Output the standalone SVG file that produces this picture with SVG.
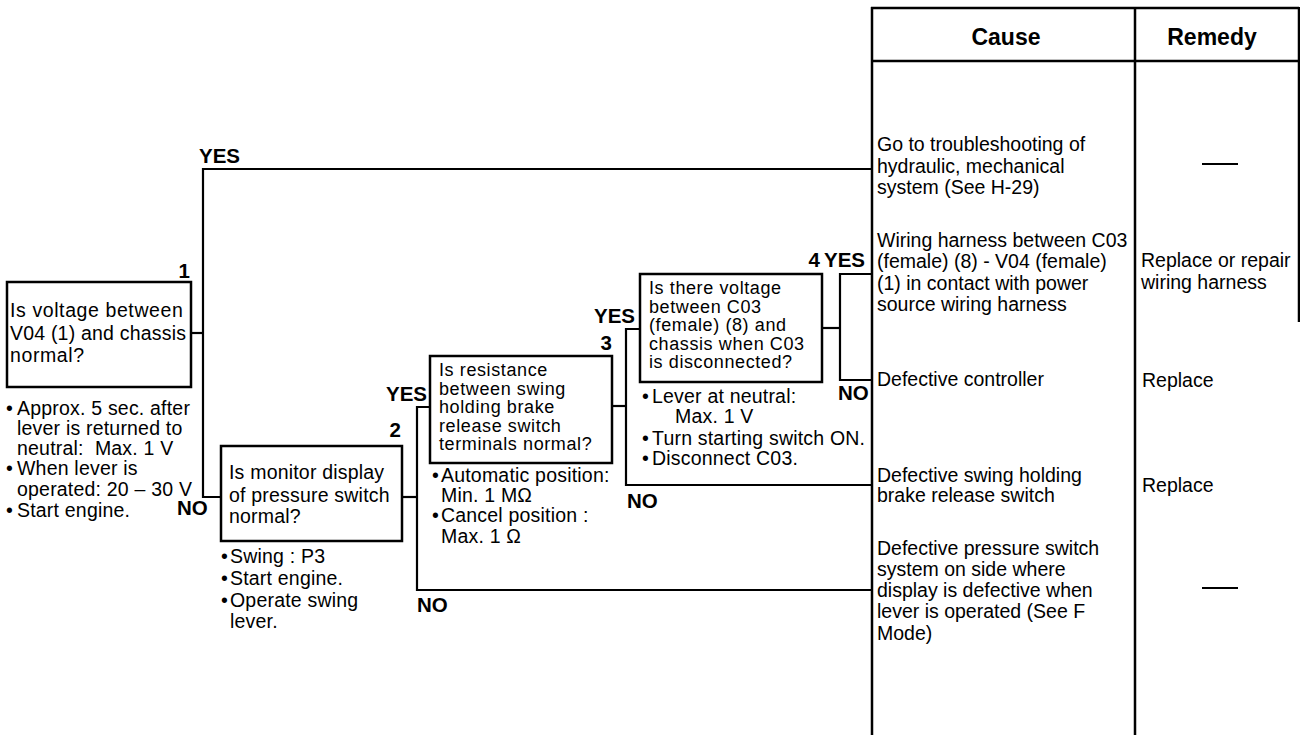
<svg xmlns="http://www.w3.org/2000/svg" width="1300" height="735" viewBox="0 0 1300 735">
<style>
  .bg { fill: #ffffff; }
  .box { fill: none; stroke: #000; stroke-width: 2.5; }
  .ln { fill: none; stroke: #000; stroke-width: 2.2; }
  .tb { fill: none; stroke: #000; stroke-width: 2.5; }
  .t { font-family: "Liberation Sans", Arial, sans-serif; font-size: 19.5px; letter-spacing: 0.2px; fill: #000; }
  .tc { font-family: "Liberation Sans", Arial, sans-serif; font-size: 19.5px; letter-spacing: 0px; fill: #000; }
  .ts { font-family: "Liberation Sans", Arial, sans-serif; font-size: 18px; letter-spacing: 0.6px; fill: #000; }
  .b { font-family: "Liberation Sans", Arial, sans-serif; font-size: 20.5px; font-weight: bold; fill: #000; }
  .h { font-family: "Liberation Sans", Arial, sans-serif; font-size: 23px; font-weight: bold; fill: #000; text-anchor: middle; }
</style>
<rect class="bg" x="0" y="0" width="1300" height="735"/>

<g id="table">
  <line class="tb" x1="871" y1="8" x2="1299" y2="8"/>
  <line class="tb" x1="871" y1="61" x2="1299" y2="61"/>
  <line class="tb" x1="872" y1="7" x2="872" y2="735"/>
  <line class="tb" x1="1135" y1="7" x2="1135" y2="735"/>
  <line class="tb" x1="1299" y1="7" x2="1299" y2="322"/>
  <text class="h" x="1006" y="45">Cause</text>
  <text class="h" x="1212" y="45">Remedy</text>
</g>

<g id="connectors">
  <polyline class="ln" points="191,333 203,333"/>
  <polyline class="ln" points="872,169 203,169 203,497 221,497"/>
  <polyline class="ln" points="402,497 417,497"/>
  <polyline class="ln" points="430,407 417,407 417,590 872,590"/>
  <polyline class="ln" points="612,406 626,406"/>
  <polyline class="ln" points="640,329 626,329 626,485 872,485"/>
  <polyline class="ln" points="822,328 840,328"/>
  <polyline class="ln" points="872,274 840,274 840,380 872,380"/>
  <text class="b" x="199" y="163">YES</text>
  <text class="b" x="177" y="515">NO</text>
  <text class="b" x="386" y="401">YES</text>
  <text class="b" x="417" y="612">NO</text>
  <text class="b" x="594" y="323">YES</text>
  <text class="b" x="627" y="508">NO</text>
  <text class="b" x="824" y="267">YES</text>
  <text class="b" x="838" y="400">NO</text>
</g>

<g id="node1">
  <rect class="box" x="7" y="282" width="184" height="105"/>
  <text class="b" x="190" y="278" text-anchor="end">1</text>
  <text class="t" x="10" y="317" style="letter-spacing:0.6px">Is voltage between</text>
  <text class="t" x="10" y="339.5">V04 (1) and chassis</text>
  <text class="t" x="10" y="362" style="letter-spacing:0.6px">normal?</text>
  <text class="t" x="6" y="415">•</text><text class="t" x="17" y="415">Approx. 5 sec. after</text>
  <text class="t" x="17" y="435">lever is returned to</text>
  <text class="t" x="17" y="455">neutral:&#160; Max. 1 V</text>
  <text class="t" x="6" y="475">•</text><text class="t" x="17" y="475">When lever is</text>
  <text class="t" x="17" y="496">operated: 20 – 30 V</text>
  <text class="t" x="6" y="517">•</text><text class="t" x="17" y="517">Start engine.</text>
</g>

<g id="node2">
  <rect class="box" x="221" y="446" width="181" height="95"/>
  <text class="b" x="401" y="437" text-anchor="end">2</text>
  <text class="t" x="229" y="479">Is monitor display</text>
  <text class="t" x="229" y="501.5">of pressure switch</text>
  <text class="t" x="229" y="523">normal?</text>
  <text class="t" x="221" y="563">•</text><text class="t" x="230" y="563">Swing : P3</text>
  <text class="t" x="221" y="585">•</text><text class="t" x="230" y="585">Start engine.</text>
  <text class="t" x="221" y="607">•</text><text class="t" x="230" y="607">Operate swing</text>
  <text class="t" x="230" y="628">lever.</text>
</g>

<g id="node3">
  <rect class="box" x="430" y="356" width="182" height="107"/>
  <text class="b" x="612" y="350" text-anchor="end">3</text>
  <text class="ts" x="439" y="376">Is resistance</text>
  <text class="ts" x="439" y="394.5">between swing</text>
  <text class="ts" x="439" y="413">holding brake</text>
  <text class="ts" x="439" y="431.5">release switch</text>
  <text class="ts" x="439" y="450">terminals normal?</text>
  <text class="t" x="432" y="482">•</text><text class="t" x="441" y="482">Automatic position:</text>
  <text class="t" x="441" y="502">Min. 1 MΩ</text>
  <text class="t" x="432" y="522">•</text><text class="t" x="441" y="522">Cancel position :</text>
  <text class="t" x="441" y="543">Max. 1 Ω</text>
</g>

<g id="node4">
  <rect class="box" x="640" y="274" width="182" height="108"/>
  <text class="b" x="820" y="267" text-anchor="end">4</text>
  <text class="ts" x="649" y="294">Is there voltage</text>
  <text class="ts" x="649" y="312.5">between C03</text>
  <text class="ts" x="649" y="331">(female) (8) and</text>
  <text class="ts" x="649" y="349.5">chassis when C03</text>
  <text class="ts" x="649" y="368">is disconnected?</text>
  <text class="t" x="642" y="403">•</text><text class="t" x="652" y="403">Lever at neutral:</text>
  <text class="t" x="675" y="423">Max. 1 V</text>
  <text class="t" x="642" y="445">•</text><text class="t" x="652" y="445">Turn starting switch ON.</text>
  <text class="t" x="642" y="465">•</text><text class="t" x="652" y="465">Disconnect C03.</text>
</g>

<g id="cause1">
  <text class="tc" x="877" y="151">Go to troubleshooting of</text>
  <text class="tc" x="877" y="172.5">hydraulic, mechanical</text>
  <text class="tc" x="877" y="194">system (See H-29)</text>
  <line class="ln" x1="1202" y1="164" x2="1238" y2="164" stroke-width="1.5"/>
</g>
<g id="cause2">
  <text class="tc" x="877" y="246.5">Wiring harness between C03</text>
  <text class="tc" x="877" y="268">(female) (8) - V04 (female)</text>
  <text class="tc" x="877" y="290">(1) in contact with power</text>
  <text class="tc" x="877" y="311">source wiring harness</text>
  <text class="tc" x="1141" y="267">Replace or repair</text>
  <text class="tc" x="1141" y="288.5">wiring harness</text>
</g>
<g id="cause3">
  <text class="tc" x="877" y="386">Defective controller</text>
  <text class="tc" x="1142" y="387">Replace</text>
</g>
<g id="cause4">
  <text class="tc" x="877" y="482">Defective swing holding</text>
  <text class="tc" x="877" y="502">brake release switch</text>
  <text class="tc" x="1142" y="492">Replace</text>
</g>
<g id="cause5">
  <text class="tc" x="877" y="554.5">Defective pressure switch</text>
  <text class="tc" x="877" y="576">system on side where</text>
  <text class="tc" x="877" y="597">display is defective when</text>
  <text class="tc" x="877" y="618">lever is operated (See F</text>
  <text class="tc" x="877" y="639.5">Mode)</text>
  <line class="ln" x1="1202" y1="588" x2="1238" y2="588" stroke-width="1.5"/>
</g>
</svg>
